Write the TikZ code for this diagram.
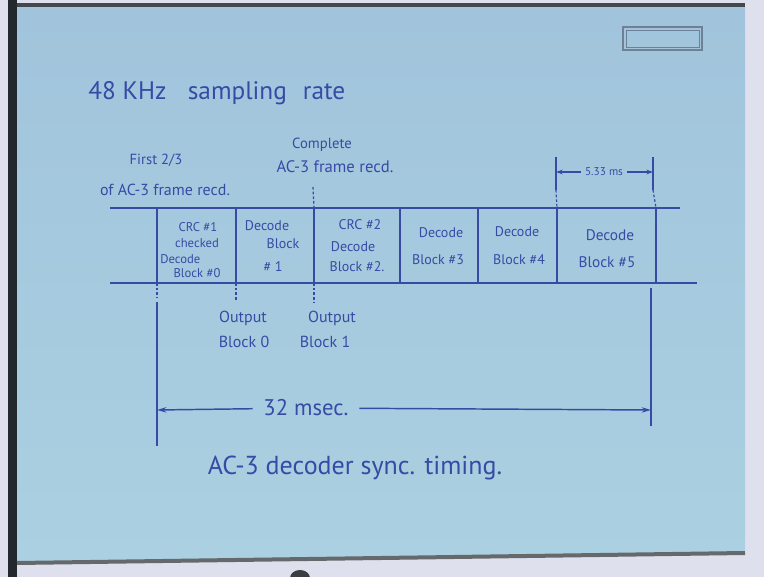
\documentclass[tikz,border=0pt]{standalone}
\usepackage{fontspec}
\setmainfont{PT Sans}
\usetikzlibrary{arrows.meta}
\definecolor{papertop}{RGB}{161,196,220}
\definecolor{paperbot}{RGB}{170,208,225}
\definecolor{ink}{RGB}{55,75,165}
\definecolor{edgedark}{RGB}{35,40,45}
\definecolor{edgelight}{RGB}{222,224,238}
\definecolor{logo}{RGB}{110,128,150}
\begin{document}
\begin{tikzpicture}[x=0.75pt,y=-0.75pt,
  hand/.style={text=ink, inner sep=0pt, font=\fontsize{10.5}{11}\selectfont},
  handS/.style={hand, font=\fontsize{9.5}{10}\selectfont},
  handM/.style={hand, font=\fontsize{12}{13}\selectfont},
  handL/.style={hand, font=\fontsize{18}{19}\selectfont},
  rule/.style={draw=ink, line width=1.1pt},
  tick/.style={draw=ink, line width=0.9pt, dash pattern=on 2pt off 1.5pt},
  dimarrow/.style={draw=ink, line width=1.1pt, -{Stealth[length=7pt,width=4pt]}},
]
\useasboundingbox (0,0) rectangle (764,577);
% ---- photo background ----
\fill[edgelight] (0,0) rectangle (764,577);
\shade[top color=papertop,bottom color=paperbot] (17,7) -- (745,7) -- (745,552) -- (17,562) -- cycle;
\fill[edgedark] (8,0) rectangle (17,577);
\fill[edgedark!85] (17,3) rectangle (745,7);
\draw[edgedark!70, line width=3pt] (17,563) -- (745,553);
\fill[edgedark!90] (300,578) ellipse [x radius=10, y radius=8];
% ---- logo box ----
\draw[logo, line width=0.8pt] (623,27) rectangle (702,50);
\draw[logo, line width=0.4pt] (626,30) rectangle (699,47);
% ---- title ----
\node[hand, font=\fontsize{19}{20}\selectfont, anchor=west] (title) at (88,93)
  {48 KHz\hspace{16pt}sampling\hspace{12pt}rate};
% ---- table coordinates ----
\coordinate (TL) at (110,208);
\coordinate (TR) at (680,208);
\coordinate (BL) at (110,283);
\coordinate (BR) at (697,283);
\foreach \i/\x in {0/157,1/236,2/314,3/400,4/478,5/557,6/656}{
  \coordinate (t\i) at (\x,208);
  \coordinate (b\i) at (\x,283);
}
\draw[rule] (TL) -- (TR);
\draw[rule] (BL) -- (BR);
\foreach \i in {0,...,6}{ \draw[rule] (t\i) -- (b\i); }
% ---- ticks above ----
\coordinate (c2t) at (313,187);
\draw[tick] (c2t) -- (t2);
\coordinate (d5a) at (556,157);
\coordinate (d5b) at (556,190);
\coordinate (d6a) at (653,157);
\coordinate (d6b) at (653,190);
\draw[rule, line width=0.9pt] (d5a) -- (d5b);
\draw[rule, line width=0.9pt] (d6a) -- (d6b);
\draw[tick] (d5b) -- (t5);
\draw[tick] (d6b) -- (t6);
\node[hand, font=\fontsize{8.5}{9}\selectfont, inner xsep=3pt] (dim) at (604,172) {5.33 ms};
\coordinate (d5m) at (556,172);
\coordinate (d6m) at (653,172);
\draw[dimarrow, -{Stealth[length=5pt,width=3.5pt]}] (dim) -- (d5m);
\draw[dimarrow, -{Stealth[length=5pt,width=3.5pt]}] (dim) -- (d6m);
% ---- labels above ----
\node[hand, font=\fontsize{11}{12}\selectfont] (first1) at (156,160) {First 2/3};
\node[handM] (first2) at (165,190) {of AC-3 frame recd.};
\node[hand, font=\fontsize{11}{12}\selectfont] (comp1) at (322,145) {Complete};
\node[handM, font=\fontsize{12.5}{13}\selectfont] (comp2) at (335,167) {AC-3 frame recd.};
% ---- cell texts ----
\node[handS] (c0a) at (198,227) {CRC \#1};
\node[handS] (c0b) at (197,243) {checked};
\node[handS, anchor=west] (c0c) at (160,259) {Decode};
\node[handS] (c0d) at (197,273) {Block \#0};
\node[hand] (c1a) at (267,226) {Decode};
\node[hand] (c1b) at (283,244) {Block};
\node[hand] (c1c) at (273,267) {\# 1};
\node[hand] (c2x) at (360,225) {CRC \#2};
\node[hand] (c2b) at (353,247) {Decode};
\node[hand] (c2c) at (357,267) {Block \#2.};
\node[hand] (c3a) at (441,233) {Decode};
\node[hand] (c3b) at (438,260) {Block \#3};
\node[hand] (c4a) at (517,232) {Decode};
\node[hand] (c4b) at (519,260) {Block \#4};
\node[hand, font=\fontsize{11.5}{12}\selectfont] (c5a) at (610,235) {Decode};
\node[hand, font=\fontsize{11.5}{12}\selectfont] (c5b) at (607,262) {Block \#5};
% ---- ticks below ----
\coordinate (u0) at (157,298);
\coordinate (u1) at (236,300);
\coordinate (u2) at (314,302);
\draw[tick] (b0) -- (u0);
\draw[tick] (b1) -- (u1);
\draw[tick] (b2) -- (u2);
\node[handM] (out0a) at (243,318) {Output};
\node[handM] (out0b) at (244,342) {Block 0};
\node[handM] (out1a) at (332,318) {Output};
\node[handM] (out1b) at (325,342) {Block 1};
% ---- 32 msec span ----
\coordinate (L1) at (157,302);
\coordinate (L2) at (157,446);
\coordinate (R1) at (651,288);
\coordinate (R2) at (651,426);
\draw[rule] (L1) -- (L2);
\draw[rule] (R1) -- (R2);
\node[handL, font=\fontsize{17}{18}\selectfont, inner xsep=8pt] (span) at (306,408) {32 msec.};
\coordinate (La) at (157,410);
\coordinate (Ra) at (651,410);
\draw[dimarrow] (span) -- (La);
\draw[dimarrow] (span) -- (Ra);
% ---- caption ----
\node[handL, font=\fontsize{19.5}{20}\selectfont] (cap) at (355,468) {AC-3 decoder sync. timing.};
\end{tikzpicture}
\end{document}
